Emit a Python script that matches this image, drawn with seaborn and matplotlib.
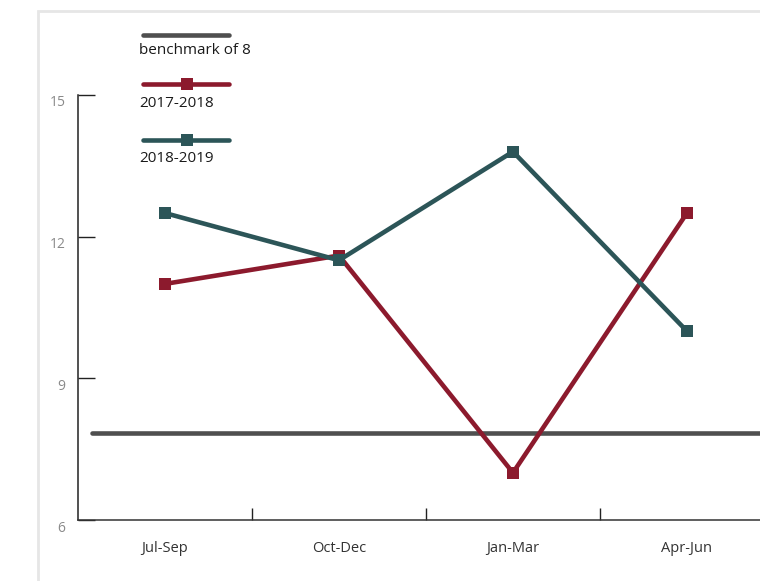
import pandas as pd
import matplotlib.pyplot as plt
import matplotlib.transforms as mtransforms
from matplotlib.lines import Line2D
from matplotlib.patches import Rectangle
import seaborn as sns

quarters = ["Jul-Sep", "Oct-Dec", "Jan-Mar", "Apr-Jun"]
fy_2017_18 = [11.0, 11.6, 7.0, 12.5]
fy_2018_19 = [12.5, 11.5, 13.8, 10.0]
benchmark = 7.85
series_names = ["2017-2018", "2018-2019"]
y_ticks = [6, 9, 12, 15]

red = "#8c1a2d"
teal = "#2c5558"
grey = "#4f4f4f"

pos = list(range(len(quarters)))
df = pd.DataFrame({
    "pos": pos * 2,
    "value": fy_2017_18 + fy_2018_19,
    "year": [series_names[0]] * 4 + [series_names[1]] * 4,
})

sns.set_style("white")
plt.rcParams["font.family"] = ["Open Sans", "DejaVu Sans"]

fig = plt.figure(figsize=(7.6, 5.81), dpi=100)
ax = fig.add_axes([78 / 760, 61 / 581, 682 / 760, 425 / 581])

# benchmark line
ax.plot([-0.42, 3.6], [benchmark, benchmark], color=grey, lw=3.3, solid_capstyle="round", zorder=1)

sns.lineplot(data=df, x="pos", y="value", hue="year", palette=[red, teal],
             marker="s", markersize=9, markeredgewidth=0, lw=3.3, sort=False,
             legend=False, ax=ax, zorder=2)

ax.set_yticks(y_ticks)
ax.set_yticklabels([str(t) for t in y_ticks])
ax.set_xticks([0.5, 1.5, 2.5, 3.5])
ax.set_xticklabels([])
ax.set_xticks(pos, minor=True)
ax.set_xticklabels(quarters, minor=True)
ax.set_xlabel("")
ax.set_ylabel("")
# limits after the ticks, set_xticks would widen them
ax.set_xlim(-0.5, 3.42)
ax.set_ylim(6, 15)

ax.tick_params(axis="y", left=True, direction="in", length=12, width=1, color="#222222",
               labelsize=10, labelcolor="#8a8a8a", pad=9)
ax.tick_params(axis="x", which="major", bottom=True, direction="in", length=9, width=1,
               color="#222222")
ax.tick_params(axis="x", which="minor", bottom=True, length=0, labelsize=10.5,
               labelcolor="#333333", pad=15)

# y labels sit a little below their ticks
shift = mtransforms.ScaledTranslation(0, -6 / 100, fig.dpi_scale_trans)
for lab in ax.get_yticklabels():
    lab.set_transform(lab.get_transform() + shift)

for s in ["top", "right"]:
    ax.spines[s].set_visible(False)
ax.spines["left"].set_color("#222222")
ax.spines["bottom"].set_color("#333333")
ax.spines["left"].set_linewidth(1.1)
ax.spines["bottom"].set_linewidth(1.1)
ax.patch.set_alpha(0)

# light frame around the chart
fig.add_artist(Rectangle((38 / 760, -0.1), 1.2, 1 - 11 / 581 + 0.1,
                         transform=fig.transFigure, fill=False,
                         edgecolor="#e6e6e6", lw=2))

# legend: line above text
def px(x, y):
    return x / 760, 1 - y / 581

legend_items = [("benchmark of 8", grey, None, 35, 50),
                (series_names[0], red, "s", 84, 104),
                (series_names[1], teal, "s", 140, 158)]
for label, col, mk, ly, ty in legend_items:
    x0, y0 = px(143, ly)
    x1, _ = px(229, ly)
    xm, _ = px(187, ly)
    fig.add_artist(Line2D([x0, x1], [y0, y0], color=col, lw=3.3,
                          solid_capstyle="round", transform=fig.transFigure))
    if mk:
        fig.add_artist(Line2D([xm], [y0], color=col, marker=mk, markersize=9,
                              markeredgewidth=0, transform=fig.transFigure))
    tx, tyy = px(139, ty)
    fig.text(tx, tyy, label, fontsize=11, color="#1a1a1a", va="center", ha="left")

fig.savefig("out.png", dpi=100)
